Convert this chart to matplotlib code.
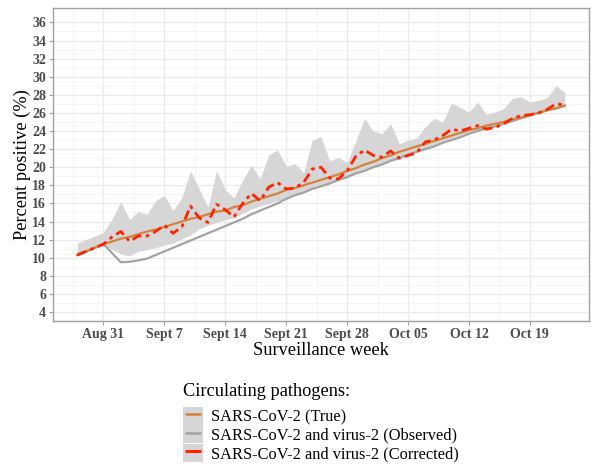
import matplotlib
matplotlib.use('Agg')
import matplotlib.pyplot as plt
import matplotlib.dates as mdates
from matplotlib.patches import Patch
from matplotlib.lines import Line2D
import pandas as pd

# daily surveillance data, Aug 28 -> Oct 23
dias = pd.date_range('2020-08-28', '2020-10-23', freq='D')

verdadeiro = [10.3, 10.7, 11.1, 11.5, 11.8, 12.1, 12.3, 12.6, 12.9, 13.1,
              13.4, 13.7, 14.0, 14.3, 14.5, 14.8, 15.1, 15.2, 15.6, 15.8,
              16.2, 16.5, 16.8, 17.1, 17.5, 17.7, 18.0, 18.3, 18.6, 18.9,
              19.2, 19.6, 19.9, 20.3, 20.6, 21.0, 21.3, 21.7, 22.0, 22.3,
              22.6, 22.9, 23.2, 23.5, 23.8, 24.1, 24.3, 24.6, 24.8, 25.0,
              25.3, 25.5, 25.8, 26.0, 26.3, 26.5, 26.8]

observado = [10.3, 10.7, 11.1, 11.5, 10.5, 9.5, 9.55, 9.7, 9.9, 10.3,
             10.7, 11.1, 11.5, 11.9, 12.3, 12.7, 13.1, 13.5, 13.9, 14.3,
             14.8, 15.2, 15.6, 16.0, 16.5, 16.9, 17.2, 17.6, 17.9, 18.2,
             18.6, 18.9, 19.3, 19.6, 20.0, 20.3, 20.7, 21.0, 21.4, 21.7,
             22.0, 22.3, 22.7, 23.0, 23.3, 23.7, 24.0, 24.3, 24.5, 24.8,
             25.1, 25.4, 25.7, 26.0, 26.3, 26.5, 26.8]

corrigido = [10.3, 10.7, 11.1, 11.5, 12.3, 12.9, 11.8, 12.4, 12.4, 12.9,
             13.6, 12.7, 13.4, 15.7, 14.4, 13.9, 15.9, 15.3, 14.5, 16.0,
             17.1, 16.3, 17.8, 18.3, 17.6, 17.7, 18.3, 19.8, 20.0, 18.8,
             18.7, 19.6, 21.2, 21.9, 21.3, 21.1, 21.8, 21.0, 21.3, 21.6,
             22.8, 23.0, 23.5, 24.2, 24.0, 24.3, 24.6, 24.2, 24.4, 24.8,
             25.4, 25.7, 25.8, 26.0, 26.4, 27.0, 26.9]

banda_sup = [11.6, 12.0, 12.4, 12.8, 14.3, 16.2, 14.2, 15.1, 14.8, 16.3,
             16.9, 15.2, 16.6, 19.6, 17.6, 15.6, 19.6, 17.5, 16.6, 18.6,
             20.2, 18.7, 21.4, 21.9, 20.1, 20.4, 19.4, 23.0, 23.4, 20.7,
             21.1, 20.5, 22.9, 25.4, 24.0, 23.7, 24.8, 22.6, 23.0, 23.2,
             24.5, 25.4, 25.0, 27.1, 26.6, 26.1, 27.2, 25.8, 26.1, 26.5,
             27.6, 27.8, 27.2, 27.4, 27.7, 29.0, 28.3]

banda_inf = [10.2, 10.6, 11.0, 11.4, 10.9, 10.4, 10.2, 10.7, 10.9, 11.1,
             11.4, 11.6, 12.1, 12.5, 13.2, 13.6, 13.9, 14.2, 14.4, 14.9,
             15.4, 15.7, 16.0, 16.3, 16.6, 17.0, 17.3, 17.6, 18.0, 18.3,
             18.7, 19.0, 19.4, 19.7, 20.1, 20.4, 20.8, 21.1, 21.5, 21.8,
             22.1, 22.5, 22.8, 23.1, 23.4, 23.8, 24.1, 24.4, 24.6, 24.9,
             25.2, 25.5, 25.7, 26.0, 26.3, 26.5, 26.8]

semanas = pd.to_datetime(['2020-08-31', '2020-09-07', '2020-09-14', '2020-09-21',
                          '2020-09-28', '2020-10-05', '2020-10-12', '2020-10-19'])
rotulos_semana = ['Aug 31', 'Sept 7', 'Sept 14', 'Sept 21', 'Sept 28', 'Oct 05', 'Oct 12', 'Oct 19']
rotulos_y = list(range(4, 37, 2))

nomes = ['SARS-CoV-2 (True)', 'SARS-CoV-2 and virus-2 (Observed)', 'SARS-CoV-2 and virus-2 (Corrected)']

cor_true = '#D2833E'
cor_obs = '#A3A3A3'
cor_corr = '#FF2400'
cor_banda = '#D6D6D6'
serif = 'Liberation Serif'
cinza_txt = '#4D4D4D'

fig = plt.figure(figsize=(5.92, 4.66), dpi=100)
ax = fig.add_axes([0.0895, 0.311, 0.9055, 0.672])

ax.fill_between(dias, banda_inf, banda_sup, color=cor_banda, lw=0, zorder=2)
ax.plot(dias, observado, color=cor_obs, lw=1.6, zorder=3)
ax.plot(dias, verdadeiro, color=cor_true, lw=1.6, zorder=4)
ax.plot(dias, corrigido, color=cor_corr, lw=2.0, ls=(0, (3.5, 1.6, 1.3, 1.6)), zorder=5)

# limites com a expansao padrao de 5%
inicio = mdates.date2num(dias[0])
fim = mdates.date2num(dias[-1])
ax.set_xlim(inicio - 0.05 * (fim - inicio), fim + 0.05 * (fim - inicio))
ax.set_ylim(3.5, 37.6)

ax.set_xticks(semanas)
ax.set_xticklabels(rotulos_semana)
ax.set_xticks(semanas - pd.Timedelta(hours=84), minor=True)
ax.set_yticks(rotulos_y)
ax.set_yticks([v + 1 for v in rotulos_y[:-1]] + [3], minor=True)

ax.grid(which='major', color='#EBEBEB', lw=1.0, zorder=0)
ax.grid(which='minor', color='#F2F2F2', lw=0.6, zorder=0)
ax.set_axisbelow(True)
for lado in ax.spines.values():
    lado.set_color('#A0A0A0')
    lado.set_linewidth(1.0)

ax.tick_params(which='major', length=3, width=0.8, color='#A0A0A0', pad=2)
ax.tick_params(which='minor', length=0)
for t in ax.get_xticklabels() + ax.get_yticklabels():
    t.set_fontfamily(serif)
    t.set_fontweight('bold')
    t.set_fontsize(10)
    t.set_color(cinza_txt)

ax.set_xlabel('Surveillance week', family=serif, fontsize=13.2, labelpad=1)
ax.set_ylabel('Percent positive (%)', family=serif, fontsize=13.2, labelpad=1)

# legenda embaixo: titulo separado + chaves
fig.text(183 / 592, 1 - 392 / 466, 'Circulating pathogens:', family=serif, fontsize=13.2,
         ha='left', va='center')
alcas = [(Patch(fc=cor_banda, ec='none'),
          Line2D([], [], color=c, lw=0, marker='_', markersize=12, markeredgewidth=w))
         for c, w in [(cor_true, 1.8), (cor_obs, 1.8), (cor_corr, 2.2)]]
leg = fig.legend(alcas, nomes, loc='upper left', bbox_to_anchor=(183 / 592, 1 - 407 / 466),
                 frameon=False, prop={'family': serif, 'size': 11.8}, borderpad=0,
                 borderaxespad=0, labelspacing=0, handlelength=1.22, handleheight=1.3,
                 handletextpad=0.5, numpoints=1)

fig.savefig('out.png', dpi=100)
